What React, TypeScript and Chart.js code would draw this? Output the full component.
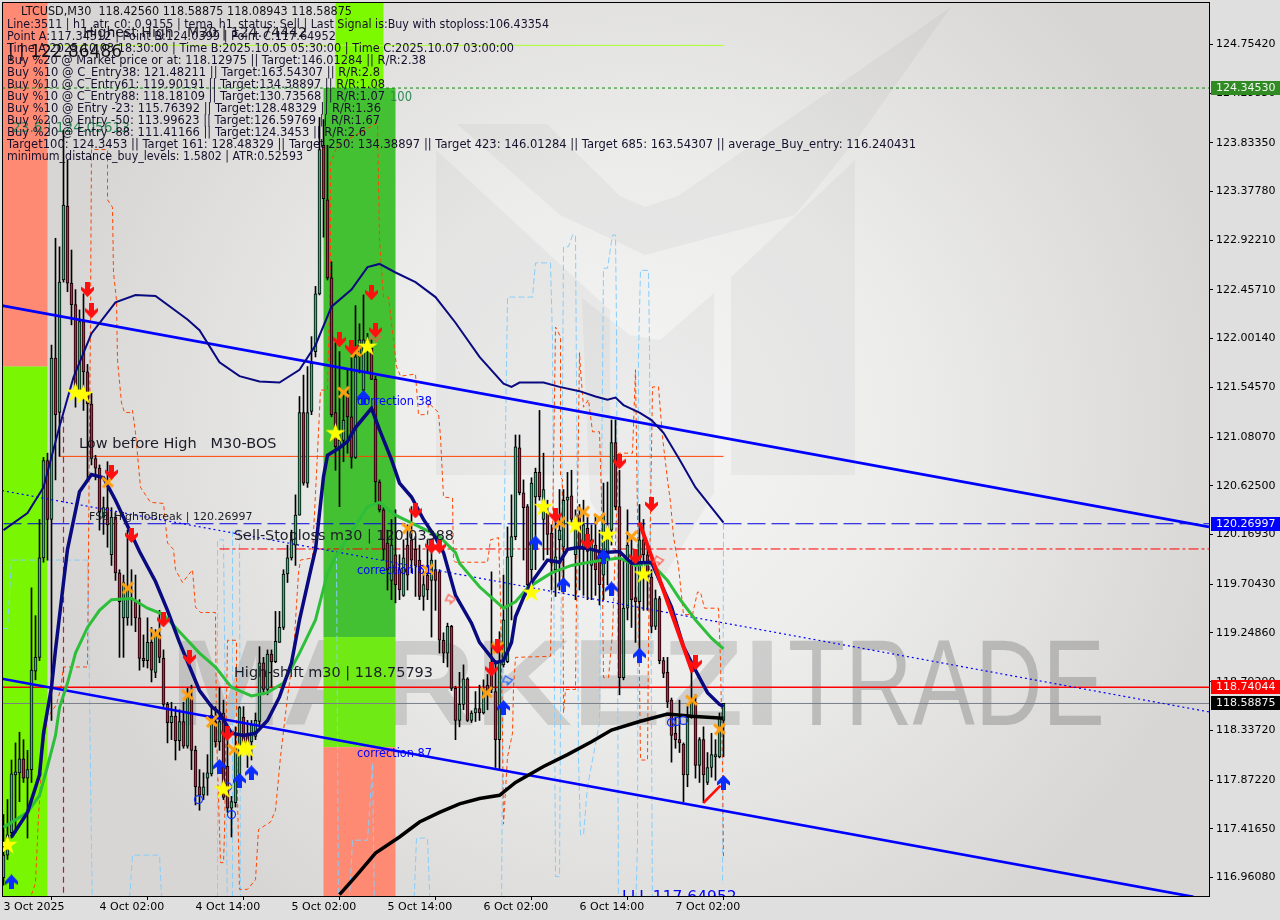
import React, { useEffect, useRef } from "react";
import { Chart, registerables } from "chart.js";

Chart.register(...registerables);

const directions =
  "GGGGGRGGGG" + "GRGRGGRRRG" + "RRRRRGRGRR" + "GGGRRRGRGR" + "RRGRGRGRRR" + "GGGRGRRGGG" +
  "RRGGGRGRGG" + "GGGGGRGGGG" + "RRRRGGRRGG" + "GRRRRRRGRR" + "GRRRRGRGRR" + "RGRRGGRGGR" +
  "GRRRGGGGGR" + "RRGGRGRRGG" + "GGRGRGRGRR" + "GGGRRGGRRG" + "RRRGRRRRRR" + "RGGRGRGGGGG";

const bodyTop = [
  117.17,117.36,117.93,117.95,118.07,118.07,117.97,118.90,119.02,119.95,
  120.86,120.86,121.82,121.82,122.53,123.25,123.24,122.52,122.32,122.16,
  122.16,121.69,121.39,120.88,120.79,120.42,120.42,120.33,120.33,119.81,
  119.72,119.68,119.65,119.54,119.39,119.01,119.16,119.16,119.23,119.23,
  119.01,118.58,118.47,118.47,118.42,118.42,118.65,118.64,118.15,117.81,
  117.81,117.94,118.48,118.42,118.42,118.50,118.00,117.67,118.17,118.55,
  118.46,118.31,118.39,118.43,118.97,118.97,119.05,119.05,119.17,119.30,
  119.80,119.95,120.12,120.35,121.31,121.31,121.31,121.77,122.42,123.77,
  123.81,123.30,122.57,121.31,121.05,121.24,121.49,121.27,121.83,121.99,
  121.99,121.99,121.91,121.62,120.66,120.40,120.09,120.07,119.98,119.84,
  119.95,120.07,120.12,120.03,119.93,119.70,119.79,119.93,119.84,119.82,
  119.18,119.31,119.31,118.73,118.58,118.82,118.82,118.50,118.54,118.54,
  118.72,118.76,118.90,118.70,118.99,119.37,119.96,120.15,120.99,120.98,
  120.56,120.43,120.65,120.75,120.75,120.59,120.37,120.18,119.96,120.21,
  120.49,120.52,120.53,120.31,120.35,120.26,120.23,120.12,120.07,120.01,
  120.35,120.21,121.03,121.03,120.43,119.48,120.07,119.91,119.58,120.12,
  120.12,119.98,119.77,119.57,119.57,118.99,118.88,118.62,118.31,118.25,
  118.21,118.46,118.60,118.60,118.25,118.25,117.99,118.11,118.11,118.45,118.59,
];
const bodyBottom = [
  116.96,117.17,117.38,117.92,117.94,117.89,117.89,117.97,118.89,119.02,
  119.95,120.31,120.31,121.29,121.31,122.55,122.52,122.32,121.50,121.49,
  121.69,121.39,120.88,120.79,120.38,120.33,120.26,119.98,119.81,119.54,
  119.39,119.39,119.63,119.39,119.01,118.99,118.99,118.90,118.88,119.02,
  118.58,118.41,118.41,118.24,118.24,118.19,118.19,118.15,117.81,117.73,
  117.73,117.89,117.93,118.23,118.23,117.71,117.61,117.61,117.66,117.87,
  118.15,118.20,118.23,118.28,118.42,118.72,118.72,118.98,118.98,119.16,
  119.30,119.80,119.95,120.07,120.35,120.65,120.65,121.32,121.88,122.42,
  123.31,122.57,121.29,120.99,120.99,121.05,121.27,120.89,120.89,121.83,
  121.52,121.90,121.62,120.66,120.40,120.03,119.84,119.74,119.70,119.65,
  119.60,119.79,119.93,119.88,119.59,119.59,119.65,119.74,119.74,119.18,
  119.06,119.06,118.73,118.43,118.43,118.58,118.43,118.43,118.50,118.50,
  118.50,118.70,118.72,118.25,118.25,118.95,118.98,119.96,120.15,120.56,
  120.42,119.70,119.84,120.52,120.52,120.31,120.17,119.90,119.84,120.12,
  120.05,120.49,120.31,119.98,120.03,120.03,120.01,119.88,119.84,119.70,
  119.79,119.93,120.21,120.43,118.83,118.83,119.48,119.56,119.54,119.54,
  119.98,119.77,119.31,119.31,118.99,118.87,118.60,118.29,118.25,118.22,
  117.92,117.92,118.46,118.01,118.01,117.92,117.85,117.99,118.09,118.09,118.43,
];
const wickHigh = [
  117.55,117.69,118.06,118.22,118.32,118.25,118.15,119.67,119.41,120.31,
  120.89,120.93,121.94,122.94,122.86,123.95,123.67,122.83,122.46,122.27,
  122.42,121.76,121.49,120.91,120.82,120.52,120.85,120.42,120.37,119.84,
  119.79,120.21,119.84,119.79,119.56,119.23,119.39,119.30,119.28,119.46,
  119.09,118.60,118.60,118.56,118.53,118.60,118.73,118.76,118.19,117.97,
  117.94,118.11,118.58,118.56,118.74,118.62,118.28,117.72,118.37,118.56,
  118.56,118.43,118.43,118.50,119.12,119.02,119.09,119.09,119.45,119.45,
  119.84,120.07,120.21,120.54,121.46,121.66,121.74,122.02,122.49,124.07,
  124.05,123.81,122.72,121.96,121.88,121.49,121.71,121.83,122.31,122.14,
  122.41,122.05,121.99,121.65,120.68,120.42,120.21,120.31,120.40,119.98,
  120.12,120.26,120.43,120.15,120.07,119.82,120.12,120.03,119.93,119.84,
  119.25,119.34,119.32,118.75,118.88,118.95,118.83,118.52,118.70,118.76,
  118.81,118.86,119.82,118.99,119.26,119.79,120.24,120.54,121.10,121.10,
  120.68,120.45,120.70,120.79,121.33,120.93,120.49,120.26,120.31,120.59,
  120.59,120.75,120.77,120.40,120.45,120.49,120.33,120.26,120.35,120.21,
  120.65,120.66,121.24,121.24,120.77,119.93,120.40,120.12,120.03,120.45,
  120.31,120.07,119.84,119.65,119.59,119.02,119.02,118.64,118.46,118.62,
  118.22,118.56,118.97,118.67,118.27,118.37,118.13,118.31,118.25,118.50,118.59,
];
const wickLow = [
  116.89,117.13,117.33,117.38,117.67,117.85,117.33,117.85,118.81,118.99,
  119.91,119.93,118.43,120.68,120.90,122.53,122.44,122.13,121.36,121.48,
  121.33,120.68,120.82,120.68,120.21,120.17,120.05,119.88,119.74,119.02,
  119.02,119.32,119.32,119.26,118.90,118.93,118.92,118.79,118.83,118.97,
  118.56,118.22,118.25,118.06,118.15,118.17,118.17,117.97,117.64,117.59,
  117.69,117.73,117.91,118.18,118.15,117.69,117.57,117.34,117.62,117.83,
  118.13,117.99,118.06,118.25,118.39,118.67,118.67,118.74,118.97,119.16,
  119.28,119.72,119.93,119.88,120.35,120.63,120.61,121.29,121.83,122.41,
  122.95,122.55,121.27,120.77,120.43,120.85,120.93,120.79,120.88,121.68,
  121.46,121.68,121.62,120.47,120.38,119.93,119.65,119.56,119.53,119.56,
  119.59,119.65,119.81,119.59,119.56,119.46,119.56,119.21,119.46,119.06,
  118.97,118.93,118.71,118.25,118.37,118.53,118.42,118.41,118.42,118.43,
  118.49,118.53,118.69,117.99,117.97,118.93,118.97,119.37,120.12,120.54,
  119.93,119.65,119.65,119.84,120.49,119.93,119.98,119.65,119.59,119.65,
  119.63,120.03,120.26,119.56,119.65,119.60,119.56,119.56,119.60,119.51,
  119.56,119.70,120.07,120.40,118.67,118.81,119.37,119.30,119.16,119.09,
  119.46,119.46,119.25,119.28,118.96,118.83,118.55,118.04,118.17,118.13,
  117.67,117.81,118.45,117.89,117.85,117.66,117.83,117.90,117.87,118.08,118.09,
];

const priceTicks = [124.7542,124.2985,123.8335,123.3778,122.9221,122.4571,122.0014,121.5457,121.0807,120.625,120.1693,119.7043,119.2486,118.7929,118.3372,117.8722,117.4165,116.9608];
const timeTickBars = [0, 24, 48, 72, 96, 120, 144, 168];
const timeTickLabels = ["3 Oct 2025", "4 Oct 02:00", "4 Oct 14:00", "5 Oct 02:00", "5 Oct 14:00", "6 Oct 02:00", "6 Oct 14:00", "7 Oct 02:00"];

const thinNavy = [[0,120.21],[6,120.37],[10,120.61],[14,121.18],[17.5,121.64],[22,122.05],[28,122.34],[33,122.41],[38,122.40],[46,122.18],[49,122.08],[54,121.78],[59,121.65],[64,121.60],[69,121.59],[74,121.71],[78,121.94],[82,122.30],[87,122.46],[91,122.67],[94,122.70],[98,122.62],[103,122.53],[108,122.39],[113,122.15],[119,121.83],[125,121.58],[127,121.55],[129,121.59],[135,121.59],[139,121.55],[144,121.51],[148,121.46],[151,121.43],[153,121.45],[155,121.38],[159,121.31],[162,121.24],[165,121.12],[169,120.87],[173,120.61],[180,120.28]];
const thickNavy = [[2,117.34],[6,117.57],[9,117.92],[10,118.31],[12,118.74],[13,119.09],[15,119.72],[16,120.03],[19,120.57],[22,120.73],[25,120.70],[28,120.49],[34,120.01],[38,119.73],[41,119.46],[44,119.16],[49,118.71],[52,118.56],[54,118.50],[57,118.31],[60,118.29],[63,118.31],[66,118.43],[69,118.65],[72,118.97],[74,119.37],[77,119.87],[78,120.03],[80,120.71],[81,120.91],[84,120.98],[86,121.04],[88,121.17],[92,121.35],[94,121.15],[97,120.87],[99,120.65],[102,120.52],[105,120.31],[108,120.14],[110,120.00],[113,119.60],[117,119.34],[119,119.16],[123,118.97],[125,118.99],[127,119.16],[128,119.40],[130,119.58],[132,119.72],[136,119.93],[139,119.91],[141,120.03],[144,120.05],[147,120.03],[150,120.00],[154,120.01],[157,119.90],[162,119.91],[164,119.74],[167,119.49],[170,119.12],[173,118.90],[176,118.69],[179,118.58],[180,118.56]];
const greenLine = [[0,117.43],[6,117.57],[9,117.73],[11,118.00],[13,118.29],[14,118.55],[16,118.78],[18,119.06],[21,119.30],[24,119.46],[27,119.56],[32,119.57],[36,119.48],[40,119.42],[44,119.26],[49,119.06],[53,118.93],[57,118.74],[62,118.66],[66,118.69],[70,118.78],[74,119.06],[78,119.37],[81,119.81],[83,119.96],[91,120.43],[94,120.47],[98,120.35],[104,120.24],[109,120.15],[113,120.00],[114,119.90],[119,119.68],[125,119.48],[128,119.54],[131,119.67],[134,119.74],[137,119.81],[142,119.88],[145,119.90],[150,119.93],[154,119.95],[158,119.88],[162,119.90],[166,119.74],[169,119.57],[173,119.37],[177,119.20],[180,119.10]];
const blackLine = [[84,116.80],[88,116.97],[93,117.19],[99,117.34],[104,117.48],[109,117.57],[114,117.65],[119,117.70],[124,117.73],[128,117.85],[135,118.00],[141,118.11],[147,118.23],[152,118.34],[159,118.42],[166,118.49],[172,118.47],[180,118.45]];
const channelUpper = [[-0.375,122.31],[301.375,120.24]];
const channelLower = [[-0.375,118.82],[297.5,116.78]];
const channelMiddle = [[-0.375,120.58],[301.375,118.51]];
const redLong = [[159,120.28],[172.25,118.88]];
const redShort = [[175,117.66],[179.25,117.82]];

const orangeStep = [[7,116.80],[8,116.91],[8.75,117.53],[9.75,118.15],[11,118.46],[13.25,118.58],[14.25,118.72],[15,118.93],[21,118.93],[21.25,120.03],[21.75,122.20],[22,123.77],[26,123.77],[26,123.30],[27.25,123.23],[27.5,122.62],[28.25,122.36],[28.5,121.80],[29.5,121.40],[30.25,121.31],[32,121.31],[32.25,121.33],[33,121.12],[34.25,120.61],[36.75,120.47],[40,120.46],[41,120.09],[42.5,120.03],[43,119.84],[44.75,119.72],[47.25,119.84],[48,119.49],[49.25,119.44],[53,119.44],[53.25,118.31],[54.25,117.10],[55,117.10],[55.25,117.38],[56,119.18],[58.25,119.18],[58.25,118.15],[59,116.85],[61,116.85],[63,116.94],[63.75,117.41],[66.75,117.48],[68,117.59],[69.25,118.09],[71,118.65],[72.5,119.06],[73.75,119.81],[74.25,119.93],[77.25,119.95],[77.5,120.18],[78.5,120.93],[79.25,121.52],[81,121.52],[81.75,122.67],[81.75,123.64],[83.5,123.81],[93.5,124.02],[94,122.92],[95,122.39],[96.25,122.39],[97.5,121.99],[98.25,121.74],[99.25,121.65],[103,121.67],[103.75,121.29],[106,121.29],[106.25,121.40],[108.75,121.31],[109.25,121.08],[110,120.52],[112.25,120.51],[112.5,119.93],[113,119.91],[121,119.91],[121.75,120.12],[123.75,120.14],[124.25,119.56],[124.75,118.34],[125,117.46],[126,118.09],[127.25,118.31],[127.5,118.74],[128,119.02],[136.75,119.03],[137.25,120.18],[138,122.11],[139.25,122.02],[139.25,120.71],[139.75,120.68],[140,118.50],[140.5,118.72],[143,118.72],[143.5,120.49],[144,121.87],[144.25,121.71],[145,121.36],[146.25,121.43],[147.25,121.13],[149,121.13],[149.5,120.52],[150,118.83],[151.25,118.83],[152.25,119.25],[153.75,120.93],[157.25,120.93],[158,121.71],[158.5,120.33],[159.25,118.06],[161,118.06],[161.25,119.18],[162.25,121.55],[163.75,121.55],[164.75,121.08],[166,120.68],[166.75,120.47],[167.5,120.15],[168.75,119.87],[170,119.42],[172.25,119.42],[173.5,119.63],[174.25,119.63],[175.25,119.48],[178.75,119.48],[179.25,118.99],[179.75,118.00],[180,117.15]];
const blueStepA = [[0,119.29],[1,119.29],[2,119.93],[21,119.93],[21.25,119.56],[21.75,117.90],[22.25,116.6]];
const blueStepB = [[31.25,116.6],[32.25,117.17],[39,117.17],[39.75,116.6]];
const blueStepC = [[53.5,116.6],[53.5,120.12],[55,120.12],[56,116.6],[57.25,116.6],[57.25,120.21],[59,120.21],[59.25,116.6]];
const blueStepD = [[83.25,119.98],[83.75,116.6],[86.25,116.6],[87.25,117.31],[91,117.31],[91.25,117.43],[92.25,118.03],[92.75,116.6]];
const blueStepE = [[102.5,116.6],[103.25,117.33],[106,117.33],[106.75,116.6]];
const blueStepF = [[124.5,116.6],[125,119.84],[126,122.39],[132.25,122.39],[133,122.71],[136.75,122.71],[137.25,121.99],[138,116.97],[139,116.97],[140,122.86],[141.25,122.86],[142.25,122.97],[143,122.97],[143.5,120.21],[143.75,118.06],[144.25,117.36],[145,117.36],[146,117.81],[149,118.41],[150,122.66],[151,122.66],[152.25,122.97],[153,122.97],[153.25,122.15],[153.75,116.6],[158,116.6],[158.5,117.28],[158.75,121.87],[159.25,122.64],[161.25,122.64],[161.5,121.92],[162.25,116.6]];
const blueStepG = [[180,120.27],[179.75,116.9]];

const levelHighestHigh = [[11,124.74442],[180,124.74442]];
const levelTarget = [[-0.375,124.3453],[301.375,124.3453]];
const levelBos = [[14,120.9],[180,120.9]];
const levelBreak = [[0,120.26997],[301.375,120.26997]];
const levelStop = [[54,120.03388],[301.375,120.03388]];
const levelShift = [[-0.375,118.74044],[301.375,118.74044]];
const levelBid = [[-0.375,118.58875],[301.375,118.58875]];
const verticalMark = [[15,121.27],[15,116.7]];

const arrowsDown = [[21,122.46],[22,122.26],[27,120.75],[32,120.16],[40,119.37],[46.5,119.02],[56,118.31],[84,121.99],[87,121.92],[92,122.43],[93,122.08],[103,120.39],[107,120.06],[109,120.06],[122,118.91],[123.5,119.12],[138,120.35],[146,120.10],[154,120.85],[158,119.96],[162,120.45],[173,118.97]];
const arrowsUp = [[2,116.92],[54,118.00],[59,117.87],[62,117.94],[90,121.45],[125,118.55],[133,120.09],[140,119.70],[150,119.96],[152,119.66],[159,119.04],[180,117.85]];
const crosses = [[26,120.66],[31,119.67],[38,119.24],[46,118.67],[52,118.42],[57.5,118.16],[85,121.50],[88,121.88],[101,120.23],[106,119.84],[123.5,119.11],[120.75,118.69],[139,120.28],[145,120.38],[149,120.32],[157,120.15],[172,118.62],[179,118.35]];
const stars = [[1,117.27],[18,121.50],[20,121.48],[55,117.79],[60,118.17],[61,118.17],[83,121.12],[91,121.93],[132,119.63],[135,120.43],[143,120.26],[151,120.17],[160,119.80]];
const rings = [[48.75,117.69],[57,117.55],[56,117.81],[167,118.41],[168.25,118.42],[170,118.43]];
const hollowRed = [[111.75,119.57],[163.75,119.93],[93,122.02]];
const hollowBlue = [[126,118.81]];

const zones = [
  { from: -0.375, to: 11, hi: 125.2, lo: 121.74, color: "#ff8a74" },
  { from: -0.375, to: 11, hi: 121.74, lo: 116.7, color: "#79f702" },
  { from: 83, to: 95, hi: 125.2, lo: 124.3453, color: "#7cfa00" },
  { from: 80, to: 98, hi: 124.3453, lo: 119.21, color: "#44c033" },
  { from: 80, to: 98, hi: 119.21, lo: 118.18, color: "#70ea14" },
  { from: 80, to: 98, hi: 118.18, lo: 116.7, color: "#ff8a74" },
];

const commentLines = [
  "Line:3511 | h1_atr_c0: 0.9155 | tema_h1_status: Sell | Last Signal is:Buy with stoploss:106.43354",
  "Point A:117.34312 | Point B:124.0399 | Point C:117.64952",
  "Time A:2025.10.03 18:30:00 | Time B:2025.10.05 05:30:00 | Time C:2025.10.07 03:00:00",
  "Buy %20 @ Market price or at: 118.12975 || Target:146.01284 || R/R:2.38",
  "Buy %10 @ C_Entry38: 121.48211 || Target:163.54307 || R/R:2.8",
  "Buy %10 @ C_Entry61: 119.90191 || Target:134.38897 || R/R:1.08",
  "Buy %10 @ C_Entry88: 118.18109 || Target:130.73568 || R/R:1.07",
  "Buy %10 @ Entry -23: 115.76392 || Target:128.48329 || R/R:1.36",
  "Buy %20 @ Entry -50: 113.99623 || Target:126.59769 || R/R:1.67",
  "Buy %20 @ Entry -88: 111.41166 || Target:124.3453 || R/R:2.6",
  "Target100: 124.3453 || Target 161: 128.48329 || Target 250: 134.38897 || Target 423: 146.01284 || Target 685: 163.54307 || average_Buy_entry: 116.240431",
  "minimum_distance_buy_levels: 1.5802 | ATR:0.52593",
];
const commentWidths = [542, 329, 507, 419, 373, 378, 378, 374, 373, 359, 909, 296];

const priceBadges = [
  { price: 124.3453, text: "124.34530", color: "#2f8b22" },
  { price: 120.26997, text: "120.26997", color: "#0000ff" },
  { price: 118.74044, text: "118.74044", color: "#ff0000" },
  { price: 118.58875, text: "118.58875", color: "#000000" },
];

const FONT = '"DejaVu Sans"';

function toPoints(pairs: number[][]) {
  return pairs.map(([x, y]) => ({ x, y }));
}

function joinSegments(segments: number[][][]) {
  const out: { x: number; y: number | null }[] = [];
  segments.forEach((s) => {
    out.push(...toPoints(s));
    out.push({ x: s[s.length - 1][0], y: null });
  });
  return out;
}

function makeCanvas(w: number, h: number, draw: (c: CanvasRenderingContext2D) => void) {
  const cv = document.createElement("canvas");
  cv.width = w;
  cv.height = h;
  draw(cv.getContext("2d")!);
  return cv;
}

function arrowShape(c: CanvasRenderingContext2D, down: boolean, fill: string) {
  c.save();
  if (down) {
    c.translate(0, 15);
    c.scale(1, -1);
  }
  c.fillStyle = fill;
  c.beginPath();
  c.moveTo(6.5, 0);
  c.lineTo(13, 7);
  c.lineTo(13, 10.5);
  c.lineTo(9, 8);
  c.lineTo(9, 15);
  c.lineTo(4, 15);
  c.lineTo(4, 8);
  c.lineTo(0, 10.5);
  c.lineTo(0, 7);
  c.closePath();
  c.fill();
  c.restore();
}

function lineSet(data: any, color: string, width: number, order: number, dash?: number[]) {
  return {
    type: "line",
    data,
    borderColor: color,
    backgroundColor: color,
    borderWidth: width,
    borderDash: dash || [],
    pointRadius: 0,
    tension: 0,
    fill: false,
    spanGaps: false,
    order,
  };
}

function pointSet(data: number[][], style: any, order: number) {
  return {
    type: "scatter",
    data: toPoints(data),
    pointStyle: style,
    pointRadius: 8,
    showLine: false,
    order,
  };
}

const backdropPlugin = {
  id: "backdrop",
  beforeDraw(chart: any) {
    const c = chart.ctx as CanvasRenderingContext2D;
    const a = chart.chartArea;
    c.save();
    c.fillStyle = "#dfdfdf";
    c.fillRect(0, 0, chart.width, chart.height);
    c.beginPath();
    c.rect(a.left, a.top, a.right - a.left, a.bottom - a.top);
    c.clip();
    const g = c.createRadialGradient(640, 430, 0, 640, 430, 600);
    g.addColorStop(0, "#f5f5f5");
    g.addColorStop(0.45, "#ececeb");
    g.addColorStop(1, "#d7d6d4");
    c.fillStyle = g;
    c.fillRect(a.left, a.top, a.right - a.left, a.bottom - a.top);
    const poly = (pts: number[][], fill: string) => {
      c.fillStyle = fill;
      c.beginPath();
      pts.forEach(([x, y], i) => (i ? c.lineTo(x, y) : c.moveTo(x, y)));
      c.closePath();
      c.fill();
    };
    const shade = "rgba(90,90,90,0.055)";
    poly([[457,124],[547,124],[620,196],[645,207],[678,196],[951,7],[860,135],[795,215],[645,255],[560,215]], shade);
    poly([[436,150],[610,310],[610,475],[436,475]], shade);
    poly([[731,277],[855,160],[855,475],[731,475]], shade);
    poly([[582,298],[630,335],[660,340],[714,293],[714,493],[650,600],[590,500]], shade);
    c.textBaseline = "alphabetic";
    c.fillStyle = "rgba(110,110,110,0.24)";
    c.save();
    c.translate(170, 725);
    c.scale(1.09, 1);
    c.font = 'bold 123px "Liberation Sans"';
    c.fillText("MARKEZI", 0, 0);
    c.restore();
    c.fillStyle = "rgba(110,110,110,0.36)";
    c.save();
    c.translate(788, 725);
    c.scale(0.76, 1);
    c.font = '123px "Liberation Sans"';
    c.fillText("TRADE", 0, 0);
    c.restore();
    c.restore();
  },
  beforeDatasetsDraw(chart: any) {
    const c = chart.ctx as CanvasRenderingContext2D;
    const a = chart.chartArea;
    const xs = chart.scales.x;
    const ys = chart.scales.y;
    c.save();
    c.beginPath();
    c.rect(a.left, a.top, a.right - a.left, a.bottom - a.top);
    c.clip();
    zones.forEach((z) => {
      const x0 = xs.getPixelForValue(z.from);
      const x1 = xs.getPixelForValue(z.to);
      const y0 = ys.getPixelForValue(z.hi);
      const y1 = ys.getPixelForValue(z.lo);
      c.fillStyle = z.color;
      c.fillRect(x0, y0, x1 - x0, y1 - y0);
    });
    c.restore();
  },
  afterDatasetsDraw(chart: any) {
    const c = chart.ctx as CanvasRenderingContext2D;
    const a = chart.chartArea;
    c.save();
    c.beginPath();
    c.rect(a.left, a.top, a.right - a.left, a.bottom - a.top);
    c.clip();
    c.textBaseline = "middle";
    c.textAlign = "left";
    const text = (s: string, x: number, y: number, size: number, color: string, w?: number) => {
      c.font = `${size}px ${FONT}`;
      c.fillStyle = color;
      if (w) c.fillText(s, x, y, w);
      else c.fillText(s, x, y);
    };
    text("Highest High   M30 | 124.74442", 83, 33, 14.5, "#1c1c28", 224);
    text("| | 122.86486", 8, 52, 17.5, "#111111", 114);
    text("23.6 | 124.05613", 12, 128, 14.5, "#2e8b57", 118);
    text("100", 390, 97, 14.5, "#2e8b57", 22);
    text("Low before High   M30-BOS", 79, 444, 14.5, "#1c1c28", 198);
    text("FSB-HighToBreak | 120.26997", 89, 517, 11, "#1c1c28", 166);
    text("Sell-Stoploss m30 | 120.03388", 234, 536, 14.5, "#1c1c28", 220);
    text("High-shift m30 | 118.75793", 234, 673, 14.5, "#1c1c28", 199);
    text("correction 38", 357, 402, 11.4, "#0000ff", 75);
    text("correction 61", 357, 571, 11.4, "#0000ff", 75);
    text("correction 87", 357, 754, 11.4, "#0000ff", 75);
    text("LLL 117.64952", 622, 898, 15.5, "#0000ff");
    text("LTCUSD,M30  118.42560 118.58875 118.08943 118.58875", 21, 12, 11.5, "#101018", 331);
    commentLines.forEach((l, i) => text(l, 7, 25 + i * 12, 11.55, "#17102c", commentWidths[i]));
    c.restore();
  },
  afterDraw(chart: any) {
    const c = chart.ctx as CanvasRenderingContext2D;
    const a = chart.chartArea;
    const ys = chart.scales.y;
    c.save();
    c.strokeStyle = "#000";
    c.lineWidth = 1;
    c.strokeRect(a.left + 0.5, a.top + 0.5, a.right - a.left, a.bottom - a.top);
    c.font = `11px ${FONT}`;
    c.textBaseline = "middle";
    c.textAlign = "left";
    priceBadges.forEach((b) => {
      const y = Math.round(ys.getPixelForValue(b.price));
      c.fillStyle = b.color;
      c.fillRect(1211, y - 7, 69, 14);
      c.fillStyle = "#f4f4f4";
      c.fillText(b.text, 1216, y + 0.5);
    });
    c.restore();
  },
};

export default function App() {
  const ref = useRef<HTMLCanvasElement>(null);
  useEffect(() => {
    document.body.style.margin = "0";
    const downIcon = makeCanvas(13, 15, (c) => arrowShape(c, true, "#ff1010"));
    const upIcon = makeCanvas(13, 15, (c) => arrowShape(c, false, "#0a2cff"));
    const crossIcon = makeCanvas(15, 15, (c) => {
      c.strokeStyle = "#ffa010";
      c.lineWidth = 3;
      c.beginPath();
      c.moveTo(2, 3);
      c.lineTo(13, 12);
      c.moveTo(13, 2);
      c.lineTo(3, 13);
      c.stroke();
    });
    const starIcon = makeCanvas(21, 21, (c) => {
      c.fillStyle = "#ffff00";
      c.beginPath();
      for (let k = 0; k < 10; k++) {
        const r = k % 2 ? 4 : 10.5;
        const t = -Math.PI / 2 + (k * Math.PI) / 5;
        const px = 10.5 + r * Math.cos(t);
        const py = 11 + r * Math.sin(t);
        if (k) c.lineTo(px, py);
        else c.moveTo(px, py);
      }
      c.closePath();
      c.fill();
    });
    const hollowArrow = (color: string) =>
      makeCanvas(14, 14, (c) => {
        c.strokeStyle = color;
        c.lineWidth = 1.2;
        c.beginPath();
        c.moveTo(12, 7);
        c.lineTo(7, 12);
        c.lineTo(7, 9);
        c.lineTo(2, 9);
        c.lineTo(5, 3);
        c.lineTo(8, 5);
        c.closePath();
        c.stroke();
      });

    const wickData = wickHigh.map((h, i) => ({ x: i, y: [wickLow[i], h] }));
    const bodyData = bodyTop.map((t, i) => ({ x: i, y: [bodyBottom[i], t] }));
    const bodyColors = bodyTop.map((_, i) => (directions[i] === "G" ? "#33b97a" : "#c4203f"));

    const datasets: any[] = [
      lineSet(joinSegments([orangeStep]), "#ff4500", 1, 40, [4, 3]),
      lineSet(joinSegments([blueStepA, blueStepB, blueStepC, blueStepD, blueStepE, blueStepF, blueStepG]), "#87cefa", 1, 41, [6, 3]),
      lineSet(toPoints(verticalMark), "#c8103c", 1.2, 39, [6, 4]),
      lineSet(toPoints(levelHighestHigh), "#adff2f", 1, 38),
      lineSet(toPoints(levelTarget), "#118a11", 1, 38, [3, 3]),
      lineSet(toPoints(levelBos), "#ff4500", 1, 37),
      lineSet(toPoints(levelBreak), "#0000e0", 1, 37, [18, 6]),
      lineSet(toPoints(levelStop), "#ff0000", 1, 37, [10, 3, 3, 3]),
      lineSet(toPoints(levelShift), "#ff0000", 1.3, 37),
      lineSet(toPoints(levelBid), "#7a808a", 1, 37),
      {
        type: "bar",
        data: wickData,
        backgroundColor: "#000000",
        borderWidth: 0,
        barThickness: 1,
        grouped: false,
        order: 30,
      },
      {
        type: "bar",
        data: bodyData,
        backgroundColor: bodyColors,
        borderColor: "#000000",
        borderWidth: 1,
        borderSkipped: false,
        barThickness: 3,
        grouped: false,
        order: 29,
      },
      lineSet(toPoints(channelMiddle), "#0000ff", 1.2, 20, [2, 3]),
      lineSet(toPoints(channelUpper), "#0000ff", 2.6, 19),
      lineSet(toPoints(channelLower), "#0000ff", 2.6, 19),
      lineSet(toPoints(thinNavy), "#0a0a80", 2, 18),
      lineSet(toPoints(greenLine), "#2dbf3a", 3, 17),
      lineSet(toPoints(blackLine), "#000000", 3.5, 16),
      lineSet(toPoints(thickNavy), "#0a0a80", 3.5, 15),
      lineSet(toPoints(redLong), "#ff0d0d", 4, 14),
      lineSet(toPoints(redShort), "#ff0d0d", 2.6, 14),
      { ...pointSet(rings, "circle", 9), pointRadius: 4, pointBackgroundColor: "rgba(0,0,0,0)", pointBorderColor: "#1030ff", pointBorderWidth: 1.2 },
      pointSet(hollowRed, hollowArrow("#ff5a4a"), 8),
      pointSet(hollowBlue, hollowArrow("#1a60ff"), 8),
      pointSet(crosses, crossIcon, 7),
      pointSet(arrowsDown, downIcon, 6),
      pointSet(arrowsUp, upIcon, 6),
      pointSet(stars, starIcon, 5),
    ];

    const chart = new Chart(ref.current as HTMLCanvasElement, {
      type: "bar",
      data: { datasets },
      plugins: [backdropPlugin as any],
      options: {
        animation: false,
        responsive: false,
        devicePixelRatio: 1,
        parsing: undefined,
        layout: { autoPadding: false, padding: { left: 2, top: 2, right: 0, bottom: 0 } },
        plugins: { legend: { display: false }, tooltip: { enabled: false }, title: { display: false } },
        events: [],
        scales: {
          x: {
            type: "linear",
            position: "bottom",
            min: -0.375,
            max: 301.375,
            offset: false,
            grid: { display: true, drawOnChartArea: false, drawTicks: true, tickLength: 4, color: "#000", tickWidth: 1 },
            border: { display: true, color: "#000", width: 1 },
            afterBuildTicks(scale: any) {
              scale.ticks = timeTickBars.map((value) => ({ value }));
            },
            afterFit(scale: any) {
              scale.height = 24;
              scale.paddingLeft = 0;
              scale.paddingRight = 0;
            },
            ticks: {
              autoSkip: false,
              maxRotation: 0,
              align: "start",
              padding: 1,
              color: "#000",
              font: { family: FONT, size: 11 },
              callback: (v: any) => timeTickLabels[timeTickBars.indexOf(Number(v))],
            },
          },
          y: {
            type: "linear",
            position: "right",
            min: 116.788,
            max: 125.15,
            grid: { display: true, drawOnChartArea: false, drawTicks: true, tickLength: 4, color: "#000", tickWidth: 1 },
            border: { display: true, color: "#000", width: 1 },
            afterBuildTicks(scale: any) {
              scale.ticks = priceTicks.map((value) => ({ value }));
            },
            afterFit(scale: any) {
              scale.width = 71;
              scale.paddingTop = 0;
              scale.paddingBottom = 0;
            },
            ticks: {
              autoSkip: false,
              padding: 3,
              color: "#000",
              font: { family: FONT, size: 11 },
              callback: (v: any) => Number(v).toFixed(5),
            },
          },
        },
      } as any,
    } as any);
    return () => chart.destroy();
  }, []);
  return (
    <div style={{ position: "absolute", left: 0, top: 0, width: 1280, height: 920 }}>
      <canvas ref={ref} width={1280} height={920} style={{ display: "block" }} />
    </div>
  );
}
